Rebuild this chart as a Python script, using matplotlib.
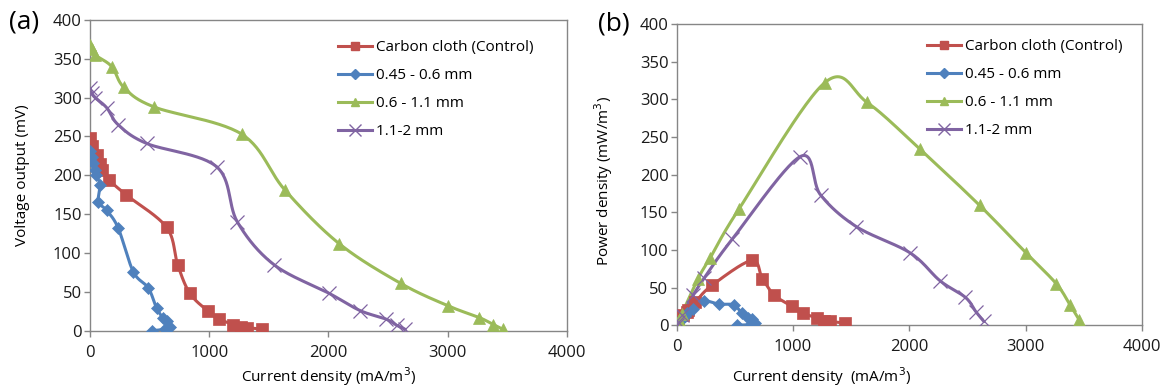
import matplotlib
matplotlib.use("Agg")
import matplotlib.pyplot as plt
from matplotlib.lines import Line2D
import numpy as np

plt.rcParams['font.family'] = ['Open Sans', 'DejaVu Sans']

# current density (mA/m3) and voltage (mV)
cc_i = [0, 14, 56, 84, 98, 160, 302, 643, 735, 838, 992, 1082, 1202, 1263, 1314, 1445]
cc_v = [248, 238, 226, 215, 207, 194, 175, 133, 85, 48, 25, 15, 8, 5, 4, 2]

s1_i = [0, 14, 28, 42, 50, 84, 70, 140, 237, 363, 489, 559, 615, 643, 671, 629, 517]
s1_v = [231, 224, 216, 207, 200, 188, 166, 155, 132, 76, 55, 29, 16, 12, 5, 2, 0]

s2_i = [0, 20, 42, 182, 285, 537, 1272, 1635, 2090, 2605, 3004, 3264, 3382, 3461]
s2_v = [368, 362, 355, 340, 313, 288, 253, 181, 112, 61, 32, 17, 8, 2]

s3_i = [0, 14, 42, 140, 237, 475, 1062, 1236, 1543, 2007, 2264, 2482, 2572, 2641]
s3_v = [312, 306, 300, 287, 265, 241, 211, 140, 85, 48, 26, 15, 7, 2]

# power density (mW/m3)
cc_p = [0, 3, 13, 18, 20, 31, 53, 86, 62, 40, 25, 16, 10, 6, 5, 3]
s1_p = [0, 3, 6, 9, 10, 16, 12, 22, 32, 28, 27, 16, 10, 8, 3, 1, 0]
s2_p = [0, 7, 15, 62, 89, 155, 322, 296, 234, 159, 96, 55, 27, 7]
s3_p = [0, 4, 13, 40, 63, 114, 224, 173, 131, 96, 59, 37, 18, 5]

labels = ["Carbon cloth (Control)", "0.45 - 0.6 mm", "0.6 - 1.1 mm", "1.1-2 mm"]
colors = ["#C0504D", "#4F81BD", "#9BBB59", "#8064A2"]
markers = ["s", "D", "^", "x"]
msizes = [8, 6, 8, 10]


def smooth(x, y, xr, yr, n=30):
    # excel-like smoothed line: catmull-rom in normalised coords
    px = np.array(x, float) / xr
    py = np.array(y, float) / yr
    P = np.column_stack([px, py])
    P = np.vstack([P[0], P, P[-1]])
    out = []
    t = np.linspace(0, 1, n)[:, None]
    for k in range(1, len(P) - 2):
        p0, p1, p2, p3 = P[k - 1], P[k], P[k + 1], P[k + 2]
        seg = 0.5 * ((2 * p1) + (-p0 + p2) * t + (2 * p0 - 5 * p1 + 4 * p2 - p3) * t ** 2
                     + (-p0 + 3 * p1 - 3 * p2 + p3) * t ** 3)
        out.append(seg)
    out = np.vstack(out)
    return out[:, 0] * xr, out[:, 1] * yr


fig = plt.figure(figsize=(11.67, 3.9), dpi=100)
ax1 = fig.add_axes([0.0771, 0.152, 0.4087, 0.797])
ax2 = fig.add_axes([0.580, 0.166, 0.3985, 0.7726])

series_a = [(cc_i, cc_v), (s1_i, s1_v), (s2_i, s2_v), (s3_i, s3_v)]
series_b = [(cc_i, cc_p), (s1_i, s1_p), (s2_i, s2_p), (s3_i, s3_p)]

for ax, series in [(ax1, series_a), (ax2, series_b)]:
    for (xs, ys), c, m, ms in zip(series, colors, markers, msizes):
        sx, sy = smooth(xs, ys, 4000, 400 * 0.65)
        ax.plot(sx, sy, color=c, lw=2.2, solid_capstyle='round', zorder=2)
        ax.plot(xs, ys, ls='none', marker=m, ms=ms, color=c, mec=c,
                mew=0.9 if m == 'x' else 0.5, zorder=3)
    ax.set_xlim(0, 4000)
    ax.set_ylim(0, 400)
    ax.set_xticks([0, 1000, 2000, 3000, 4000])
    ax.set_yticks(range(0, 401, 50))
    for sp in ax.spines.values():
        sp.set_color("#868686")
        sp.set_linewidth(1.0)
    ax.tick_params(axis='both', colors="#868686", labelcolor="#1a1a1a",
                   labelsize=12, length=4, width=1.0, direction='out')
    ax.tick_params(axis='x', pad=6)
    ax.tick_params(axis='y', pad=2)
    handles = [Line2D([], [], color=c, lw=2.2, marker=m, ms=ms * 0.8, mec=c)
               for c, m, ms in zip(colors, markers, msizes)]
    ax.legend(handles, labels, frameon=False, fontsize=11, handlelength=2.2,
              handletextpad=0.3, labelspacing=0.85, borderpad=0, borderaxespad=0,
              loc='upper left',
              bbox_to_anchor=(0.52, 0.935) if ax is ax1 else (0.538, 0.949))

ax1.set_ylabel("Voltage output (mV)", fontsize=11)
ax1.yaxis.set_label_coords(-0.125, 0.5)
ax1.set_xlabel("Current density (mA/m$^3$)", fontsize=11)
ax1.xaxis.set_label_coords(0.5, -0.112)

ax2.set_ylabel("Power density (mW/m$^3$)", fontsize=11)
ax2.yaxis.set_label_coords(-0.132, 0.48)
ax2.set_xlabel("Current density  (mA/m$^3$)", fontsize=11)
ax2.xaxis.set_label_coords(0.312, -0.132)

fig.text(0.021, 0.944, "(a)", fontsize=19, ha='center', va='center')
fig.text(0.526, 0.938, "(b)", fontsize=19, ha='center', va='center')

fig.savefig("out.png", dpi=100)
